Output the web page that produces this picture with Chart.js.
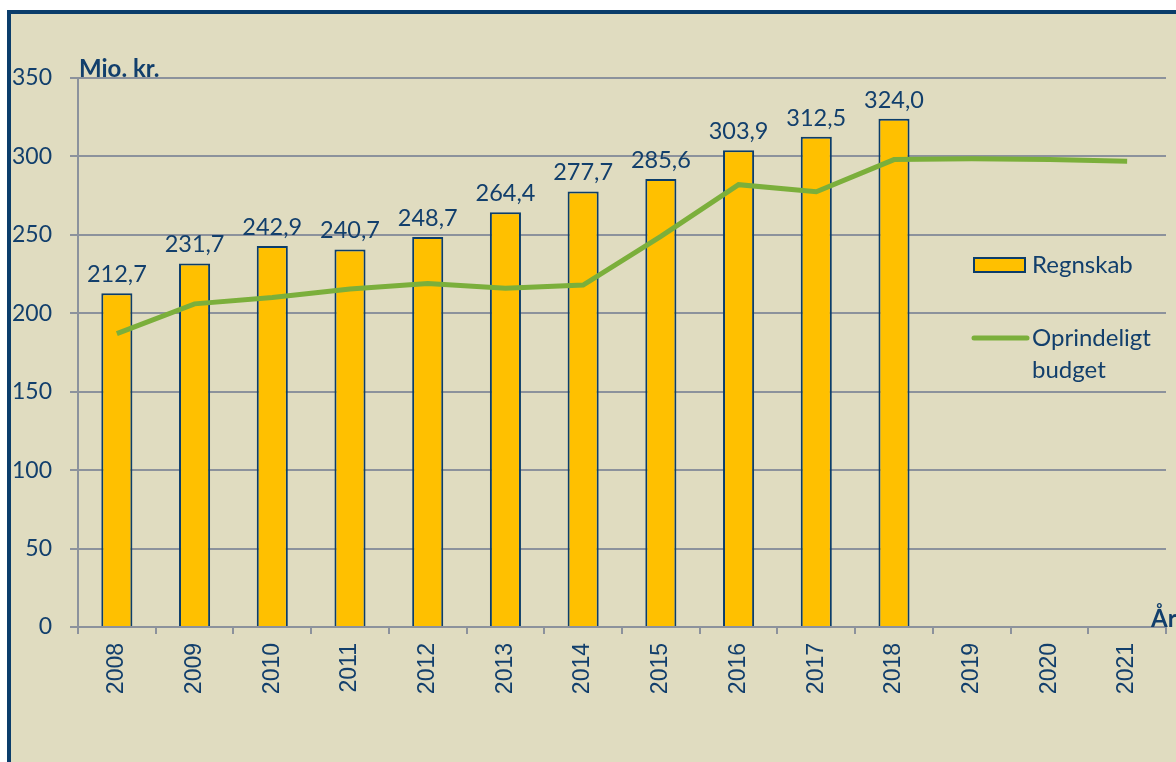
<!DOCTYPE html>
<html>
<head>
<meta charset="utf-8">
<script src="https://cdn.jsdelivr.net/npm/chart.js@4.4.0/dist/chart.umd.min.js"></script>
<style>
  html, body { margin: 0; padding: 0; background: #fff; }
  body { width: 1176px; height: 762px; position: relative; overflow: hidden; }
  .frame {
    position: absolute; left: 7px; top: 10px; width: 1200px; height: 800px;
    background: #E0DCC0; border-left: 4px solid #0B3D6B; border-top: 4px solid #0B3D6B;
  }
  #wrap { position: absolute; left: 0; top: 0; width: 1176px; height: 762px; }
</style>
</head>
<body>
<div class="frame"></div>
<div id="wrap"><canvas id="chart" width="1176" height="762"></canvas></div>
<script>
// --- Data ---
const years = ['2008','2009','2010','2011','2012','2013','2014','2015','2016','2017','2018','2019','2020','2021'];
const regnskab = [212.7, 231.7, 242.9, 240.7, 248.7, 264.4, 277.7, 285.6, 303.9, 312.5, 324.0, null, null, null];
const budget = [187, 206, 210, 215.5, 219, 216, 218, 249, 282, 277.5, 298, 298.5, 298, 297];
const yTicks = [0, 50, 100, 150, 200, 250, 300, 350];

const NAVY = '#0B3D6B';
const TEXT = '#123F6C';
const GRID = '#8C929C';
const BAR = '#FFC000';
const GREEN = '#7BAF3B';
const FONT = 'Lato, "Open Sans", sans-serif';

// value labels, axis titles and legend
const extras = {
    id: 'extras',
    afterDatasetsDraw(chart) {
        const ctx = chart.ctx;
        ctx.save();
        // bar values
        const meta = chart.getDatasetMeta(0);
        ctx.font = '23.5px ' + FONT;
        ctx.fillStyle = TEXT;
        ctx.textAlign = 'center';
        ctx.textBaseline = 'bottom';
        meta.data.forEach((bar, i) => {
            const v = regnskab[i];
            if (v == null) return;
            ctx.fillText(v.toFixed(1).replace('.', ','), bar.x, bar.y - 7);
        });

        // axis titles
        ctx.font = 'bold 24px ' + FONT;
        ctx.textAlign = 'left';
        ctx.textBaseline = 'alphabetic';
        ctx.fillText('Mio. kr.', 79, 77);
        ctx.fillText('År', 1151, 627);

        // legend
        ctx.fillStyle = BAR;
        ctx.strokeStyle = NAVY;
        ctx.lineWidth = 2;
        ctx.fillRect(974, 258, 51, 14);
        ctx.strokeRect(974, 258, 51, 14);

        ctx.strokeStyle = GREEN;
        ctx.lineWidth = 5;
        ctx.lineCap = 'round';
        ctx.beginPath();
        ctx.moveTo(974, 338);
        ctx.lineTo(1027, 338);
        ctx.stroke();

        ctx.font = '24px ' + FONT;
        ctx.fillStyle = TEXT;
        ctx.textBaseline = 'middle';
        ctx.fillText('Regnskab', 1032, 265);
        ctx.fillText('Oprindeligt', 1032, 338);
        ctx.fillText('budget', 1032, 370);
        ctx.restore();
    }
};

new Chart(document.getElementById('chart').getContext('2d'), {
    data: {
        labels: years,
        datasets: [
            {
                type: 'bar', label: 'Regnskab', data: regnskab,
                backgroundColor: BAR, borderColor: NAVY, borderWidth: 2,
                categoryPercentage: 1, barPercentage: 0.4, order: 2
            },
            {
                type: 'line', label: 'Oprindeligt budget', data: budget,
                borderColor: GREEN, borderWidth: 5, pointRadius: 0,
                tension: 0, fill: false, order: 1
            }
        ]
    },
    options: {
        responsive: false,
        animation: false,
        layout: { padding: { top: 78, right: 10, left: 0, bottom: 0 } },
        plugins: { legend: { display: false }, tooltip: { enabled: false } },
        scales: {
            x: {
                grid: { display: true, drawOnChartArea: false, offset: true, color: GRID, tickLength: 7, lineWidth: 2 },
                border: { color: GRID, width: 2 },
                ticks: {
                    minRotation: 90, maxRotation: 90, padding: 9,
                    color: TEXT, font: { family: '"Liberation Sans", Arial, sans-serif', size: 23 }
                },
                afterFit(scale) { scale.height = 135; }
            },
            y: {
                min: 0, max: 350,
                afterBuildTicks(scale) { scale.ticks = yTicks.map(v => ({ value: v })); },
                grid: { color: GRID, lineWidth: 2, tickLength: 8 },
                border: { color: GRID, width: 2 },
                ticks: { color: TEXT, padding: 18, font: { family: FONT, size: 23 } },
                afterFit(scale) { scale.width = 78; }
            }
        }
    },
    plugins: [extras]
});
</script>
</body>
</html>
